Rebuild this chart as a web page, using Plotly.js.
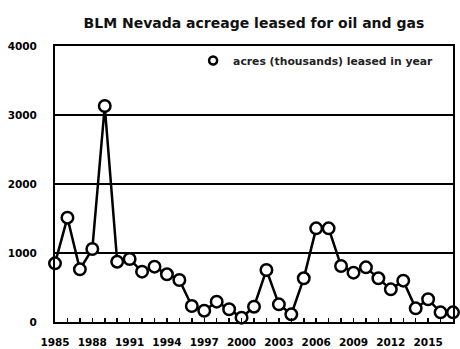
<!DOCTYPE html>
<html><head><meta charset="utf-8">
<script src="https://cdn.plot.ly/plotly-3.0.1.min.js"></script>
<style>body{margin:0;background:#fff}#chart{width:460px;height:349px}
#chart .legend .traces{opacity:1 !important}</style>
</head><body><div id="chart"></div>
<script>
const years = [1985,1986,1987,1988,1989,1990,1991,1992,1993,1994,1995,1996,1997,1998,1999,2000,2001,2002,2003,2004,2005,2006,2007,2008,2009,2010,2011,2012,2013,2014,2015,2016,2017];
const acres = [850,1512,763,1058,3130,874,913,730,802,691,609,232,164,295,184,63,222,754,256,111,633,1357,1357,812,715,792,633,473,599,198,329,140,140];
const seriesName = 'acres (thousands) leased in year';
const titleText = 'BLM Nevada acreage leased for oil and gas';

const trace = {
  x: years, y: acres, name: seriesName, type: 'scatter', mode: 'lines+markers',
  line: {color: '#000', width: 2.5},
  marker: {symbol: 'circle', size: 11.5, color: '#fff', line: {color: '#000', width: 2.5}},
  cliponaxis: false, showlegend: false
};
const legendTrace = {
  x: years, y: acres, name: seriesName, type: 'scatter', mode: 'markers',
  visible: 'legendonly',
  marker: {symbol: 'circle', size: 8, color: '#fff', line: {color: '#000', width: 2.5}},
  showlegend: true
};
const layout = {
  width: 460, height: 349,
  margin: {l: 55, r: 7, t: 46, b: 27},
  paper_bgcolor: '#fff', plot_bgcolor: '#fff',
  font: {family: 'DejaVu Sans', color: '#000'},
  title: {text: titleText, font: {family: 'DejaVu Sans', size: 14, weight: 'bold', color: '#111'}, x: 0.552, xanchor: 'center', y: 0.933, yanchor: 'middle'},
  showlegend: true,
  legend: {x: 0.347, y: 1.0, xanchor: 'left', yanchor: 'top', bgcolor: 'rgba(255,255,255,0)', font: {size: 10.8, family: 'DejaVu Sans', weight: 'bold', color: '#222'}, itemwidth: 30, itemclick: false},
  xaxis: {
    range: [1985, 2017], tick0: 1985, dtick: 3, tickmode: 'linear',
    ticks: 'inside', ticklen: 4, tickwidth: 1.5, tickcolor: '#000',
    minor: {dtick: 1, ticks: 'inside', ticklen: 4, tickwidth: 1.5, tickcolor: '#000'},
    showgrid: false, zeroline: false,
    showline: true, linecolor: '#000', linewidth: 2, mirror: true,
    tickfont: {size: 10.5, weight: 'bold', family: 'DejaVu Sans'},
    ticklabelstandoff: 9
  },
  yaxis: {
    range: [0, 4000], dtick: 1000, tickmode: 'linear',
    ticks: '', showgrid: true, gridcolor: '#000', gridwidth: 2,
    zeroline: false, showline: true, linecolor: '#000', linewidth: 2, mirror: true,
    tickfont: {size: 10.5, weight: 'bold', family: 'DejaVu Sans'},
    ticklabelstandoff: 14
  }
};
Plotly.newPlot('chart', [trace, legendTrace], layout, {displayModeBar: false, staticPlot: true});
</script></body></html>
